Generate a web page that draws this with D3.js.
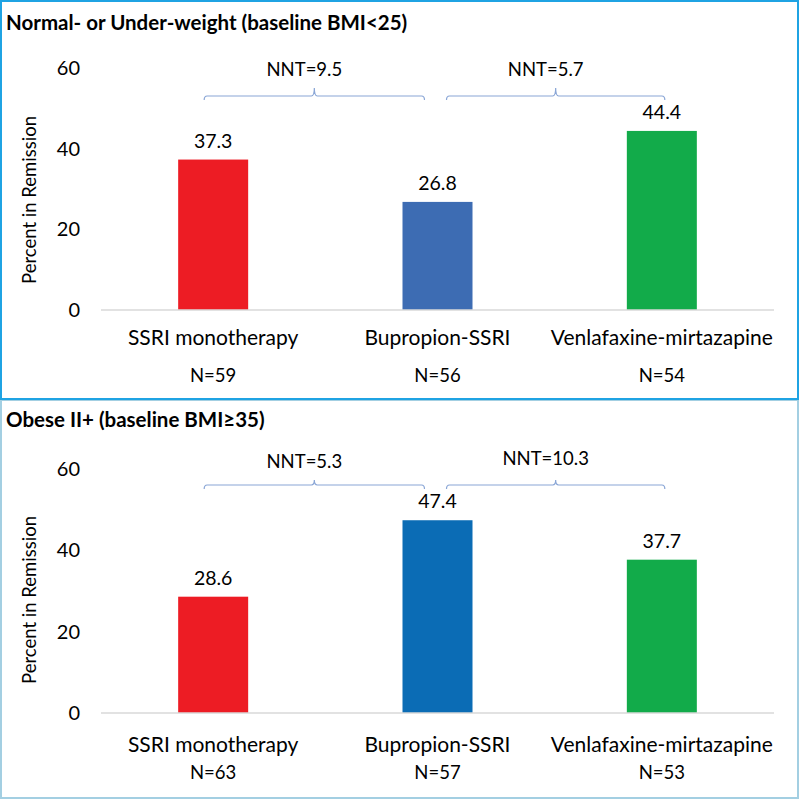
<!DOCTYPE html>
<html>
<head>
<meta charset="utf-8">
<script src="https://cdn.jsdelivr.net/npm/d3@7"></script>
<style>
  html, body { margin: 0; padding: 0; background: #fff; }
  svg { display: block; }
  text { font-family: Lato, "Open Sans", sans-serif; fill: #000; }
</style>
</head>
<body>
<svg id="chart" width="800" height="800"></svg>
<script>
// ---- Data ----
const categories = ["SSRI monotherapy", "Bupropion-SSRI", "Venlafaxine-mirtazapine"];
const panelTitles = ["Normal- or Under-weight (baseline BMI<25)", "Obese II+ (baseline BMI\u226535)"];
const remissionNormal = [37.3, 26.8, 44.4];
const remissionObese = [28.6, 47.4, 37.7];
const nNormal = ["N=59", "N=56", "N=54"];
const nObese = ["N=63", "N=57", "N=53"];
const nntNormal = ["NNT=9.5", "NNT=5.7"];
const nntObese = ["NNT=5.3", "NNT=10.3"];
const yTicks = [0, 20, 40, 60];
const yLabel = "Percent in Remission";

// ---- Styles / layout ----
const colorsNormal = ["#ed1c24", "#3d6cb3", "#12ab4a"];
const colorsObese = ["#ed1c24", "#0b6cb5", "#12ab4a"];
const fs = { title: 20.5, tick: 20, ylab: 18.5, val: 19.5, cat: 21, n: 18.5, nnt: 18.5 };

const panels = [
  { title: panelTitles[0], values: remissionNormal, ns: nNormal, nnt: nntNormal, colors: colorsNormal,
    y0: 310, y60: 68, titleY: 30, catY: 345, nY: 382, bracketY: 96, tickUp: 8, nntY: 76, nntY2: 76,
    border: "#1fa3e3", yLabelCenter: 200 },
  { title: panelTitles[1], values: remissionObese, ns: nObese, nnt: nntObese, colors: colorsObese,
    y0: 713, y60: 469, titleY: 427, catY: 752, nY: 779, bracketY: 485, tickUp: 5, nntY: 468, nntY2: 465,
    border: "#a3cfe2", yLabelCenter: 600 }
];

const svg = d3.select("#chart");

svg.append("rect").attr("x", 1).attr("y", 400).attr("width", 797).attr("height", 398)
  .attr("fill", "none").attr("stroke", panels[1].border).attr("stroke-width", 2);
svg.append("rect").attr("x", 1).attr("y", 1).attr("width", 797).attr("height", 398)
  .attr("fill", "none").attr("stroke", panels[0].border).attr("stroke-width", 2);

const x = d3.scalePoint().domain(categories).range([101, 774]).padding(0.5);
const barW = 70;

panels.forEach(p => {
  const g = svg.append("g");
  const y = d3.scaleLinear().domain([0, 60]).range([p.y0, p.y60]);

  g.append("text").attr("x", 6).attr("y", p.titleY)
    .attr("font-weight", "bold").attr("font-size", fs.title).text(p.title);

  const yAxis = d3.axisLeft(y).tickValues(yTicks).tickSize(0).tickPadding(0);
  const ya = g.append("g").attr("transform", "translate(80,0)").call(yAxis);
  ya.select(".domain").remove();
  ya.selectAll("text").attr("font-size", fs.tick).attr("font-family", "Lato, sans-serif").attr("fill", "#000");

  g.append("text")
    .attr("transform", `translate(36,${p.yLabelCenter}) rotate(-90)`)
    .attr("text-anchor", "middle").attr("font-size", fs.ylab).text(yLabel);

  g.selectAll("rect.bar").data(p.values).join("rect").attr("class", "bar")
    .attr("x", (d, i) => x(categories[i]) - barW / 2)
    .attr("y", d => y(d))
    .attr("width", barW)
    .attr("height", d => y(0) - y(d))
    .attr("fill", (d, i) => p.colors[i]);

  g.append("line").attr("x1", 101).attr("x2", 774).attr("y1", y(0)).attr("y2", y(0))
    .attr("stroke", "#d9d9d9").attr("stroke-width", 1.5);

  g.selectAll("text.val").data(p.values).join("text").attr("class", "val")
    .attr("x", (d, i) => x(categories[i]))
    .attr("y", d => y(d) - 12)
    .attr("text-anchor", "middle").attr("font-size", fs.val)
    .text(d => d.toFixed(1));

  g.selectAll("text.cat").data(categories).join("text").attr("class", "cat")
    .attr("x", d => x(d)).attr("y", p.catY)
    .attr("text-anchor", "middle").attr("font-size", fs.cat).text(d => d);

  g.selectAll("text.n").data(p.ns).join("text").attr("class", "n")
    .attr("x", (d, i) => x(categories[i])).attr("y", p.nY)
    .attr("text-anchor", "middle").attr("font-size", fs.n).text(d => d);

  const spans = [
    [x(categories[0]) - 9, x(categories[1]) - 13],
    [x(categories[1]) + 9, x(categories[2]) + 3]
  ];
  spans.forEach((s, k) => {
    const [x1, x2] = s;
    const m = (x1 + x2) / 2;
    const b = p.bracketY;
    const path = d3.path();
    path.moveTo(x1, b + 4);
    path.quadraticCurveTo(x1, b, x1 + 3, b);
    path.lineTo(m - 3, b);
    path.quadraticCurveTo(m, b, m, b - p.tickUp);
    path.quadraticCurveTo(m, b, m + 3, b);
    path.lineTo(x2 - 3, b);
    path.quadraticCurveTo(x2, b, x2, b + 4);
    g.append("path").attr("d", path.toString()).attr("fill", "none")
      .attr("stroke", "#8aa6d6").attr("stroke-width", 1.2);
    g.append("text").attr("x", m - 10).attr("y", k === 0 ? p.nntY : p.nntY2)
      .attr("text-anchor", "middle").attr("font-size", fs.nnt).text(p.nnt[k]);
  });
});
</script>
</body>
</html>
